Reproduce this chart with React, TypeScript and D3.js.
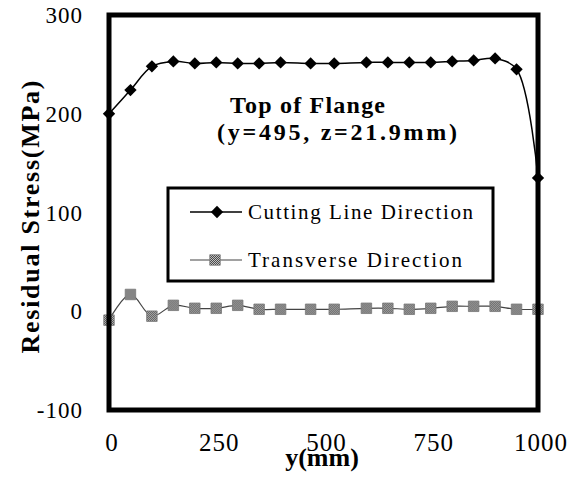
import React, { useEffect, useRef } from "react";
import * as d3 from "d3";

// positions along the flange (mm)
const positions = [0, 50, 100, 150, 200, 250, 300, 350, 400, 470, 525, 600, 650, 700, 750, 800, 850, 900, 950, 1000];
const cuttingLine = [200, 224, 248, 253, 251, 252, 251, 251, 252, 251, 251, 252, 252, 252, 252, 253, 254, 256, 245, 135];
const transverse = [-9, 17, -5, 6, 3, 3, 6, 2, 2, 2, 2, 3, 3, 2, 3, 5, 5, 5, 2, 2];
const xTicks = [0, 250, 500, 750, 1000];
const yTicks = [-100, 0, 100, 200, 300];
const seriesNames = ["Cutting Line Direction", "Transverse Direction"];

const FONT = "'Liberation Serif', Tinos, 'DejaVu Serif', serif";

const App = () => {
  const svgRef = useRef<SVGSVGElement>(null);

  useEffect(() => {
    if (!svgRef.current) return;
    const svg = d3.select(svgRef.current);
    svg.selectAll("*").remove();

    const left = 109, right = 538, top = 15, bottom = 410;

    const x = d3.scaleLinear().domain([0, 1000]).range([left, right]);
    const y = d3.scaleLinear().domain([-100, 300]).range([bottom, top]);

    // dithered gray fill for the transverse markers
    const defs = svg.append("defs");
    const pat = defs.append("pattern")
      .attr("id", "dither")
      .attr("width", 2)
      .attr("height", 2)
      .attr("patternUnits", "userSpaceOnUse");
    pat.append("rect").attr("width", 2).attr("height", 2).attr("fill", "#c0c0c0");
    pat.append("rect").attr("width", 1).attr("height", 1).attr("fill", "#4a4a4a");
    pat.append("rect").attr("x", 1).attr("y", 1).attr("width", 1).attr("height", 1).attr("fill", "#4a4a4a");

    const cutData = positions.map((p, i) => ({ p, v: cuttingLine[i] }));
    const trData = positions.map((p, i) => ({ p, v: transverse[i] }));

    const line = d3.line<{ p: number; v: number }>()
      .x(d => x(d.p))
      .y(d => y(d.v))
      .curve(d3.curveCatmullRom.alpha(0.5));

    // Transverse line + markers
    svg.append("path")
      .datum(trData)
      .attr("fill", "none")
      .attr("stroke", "#444")
      .attr("stroke-width", 1.2)
      .attr("d", line);

    const square = d3.symbol().type(d3.symbolSquare).size(110);
    const diamond = d3.symbol().type(d3.symbolSquare).size(76);

    svg.selectAll(".trPoint")
      .data(trData)
      .enter()
      .append("path")
      .attr("class", "trPoint")
      .attr("d", square)
      .attr("transform", d => `translate(${x(d.p)},${y(d.v)})`)
      .attr("fill", "url(#dither)")
      .attr("stroke", "#777")
      .attr("stroke-width", 0.8);

    // Cutting line + markers
    svg.append("path")
      .datum(cutData)
      .attr("fill", "none")
      .attr("stroke", "#000")
      .attr("stroke-width", 1.5)
      .attr("d", line);

    svg.selectAll(".cutPoint")
      .data(cutData)
      .enter()
      .append("path")
      .attr("class", "cutPoint")
      .attr("d", diamond)
      .attr("transform", d => `translate(${x(d.p)},${y(d.v)}) rotate(45)`)
      .attr("fill", "#000");

    // Frame
    svg.append("rect")
      .attr("x", left)
      .attr("y", top)
      .attr("width", right - left)
      .attr("height", bottom - top)
      .attr("fill", "none")
      .attr("stroke", "#000")
      .attr("stroke-width", 5);

    // Y tick labels
    svg.selectAll(".yTick")
      .data(yTicks)
      .enter()
      .append("text")
      .attr("x", 83)
      .attr("y", d => y(d) + 8)
      .attr("text-anchor", "end")
      .style("font-family", FONT)
      .attr("font-size", 23)
      .attr("letter-spacing", 1)
      .text(d => d);

    // X tick labels
    svg.selectAll(".xTick")
      .data(xTicks)
      .enter()
      .append("text")
      .attr("x", d => x(d) + 3)
      .attr("y", 451)
      .attr("text-anchor", "middle")
      .style("font-family", FONT)
      .attr("font-size", 25)
      .attr("letter-spacing", 1)
      .text(d => d);

    // Axis titles
    svg.append("text")
      .attr("x", 322)
      .attr("y", 466)
      .attr("text-anchor", "middle")
      .style("font-family", FONT)
      .attr("font-size", 26)
      .attr("font-weight", "bold")
      .text("y(mm)");

    svg.append("text")
      .attr("transform", "translate(39,217) rotate(-90)")
      .attr("text-anchor", "middle")
      .attr("textLength", 273)
      .attr("lengthAdjust", "spacing")
      .style("font-family", FONT)
      .attr("font-size", 26)
      .attr("font-weight", "bold")
      .text("Residual Stress(MPa)");

    // Annotation
    svg.append("text")
      .attr("x", 230)
      .attr("y", 113)
      .attr("textLength", 155)
      .attr("lengthAdjust", "spacing")
      .style("font-family", FONT)
      .attr("font-size", 24)
      .attr("font-weight", "bold")
      .text("Top of Flange");

    svg.append("text")
      .attr("x", 217)
      .attr("y", 140)
      .attr("textLength", 240)
      .attr("lengthAdjust", "spacing")
      .style("font-family", FONT)
      .attr("font-size", 24)
      .attr("font-weight", "bold")
      .text("(y=495, z=21.9mm)");

    // Legend
    const legend = svg.append("g");
    legend.append("rect")
      .attr("x", 168)
      .attr("y", 188)
      .attr("width", 325)
      .attr("height", 93)
      .attr("fill", "#fff")
      .attr("stroke", "#000")
      .attr("stroke-width", 3);

    const rows = [
      { name: seriesNames[0], y: 212, len: 225 },
      { name: seriesNames[1], y: 260, len: 214 },
    ];
    rows.forEach((r, i) => {
      legend.append("line")
        .attr("x1", 190)
        .attr("x2", 242)
        .attr("y1", r.y)
        .attr("y2", r.y)
        .attr("stroke", i === 0 ? "#000" : "#444")
        .attr("stroke-width", i === 0 ? 1.5 : 1.2);
      legend.append("path")
        .attr("d", i === 0 ? diamond : square)
        .attr("transform", i === 0 ? `translate(217,${r.y}) rotate(45)` : `translate(215,${r.y})`)
        .attr("fill", i === 0 ? "#000" : "url(#dither)")
        .attr("stroke", i === 0 ? "none" : "#777")
        .attr("stroke-width", 0.8);
      legend.append("text")
        .attr("x", 248)
        .attr("y", r.y + 7)
        .attr("textLength", r.len)
        .attr("lengthAdjust", "spacing")
        .style("font-family", FONT)
        .attr("font-size", 21)
        .text(r.name);
    });
  }, []);

  return (
    <svg
      ref={svgRef}
      width={576}
      height={488}
      style={{ position: "absolute", left: 0, top: 0, background: "#fff" }}
    />
  );
};

export default App;
